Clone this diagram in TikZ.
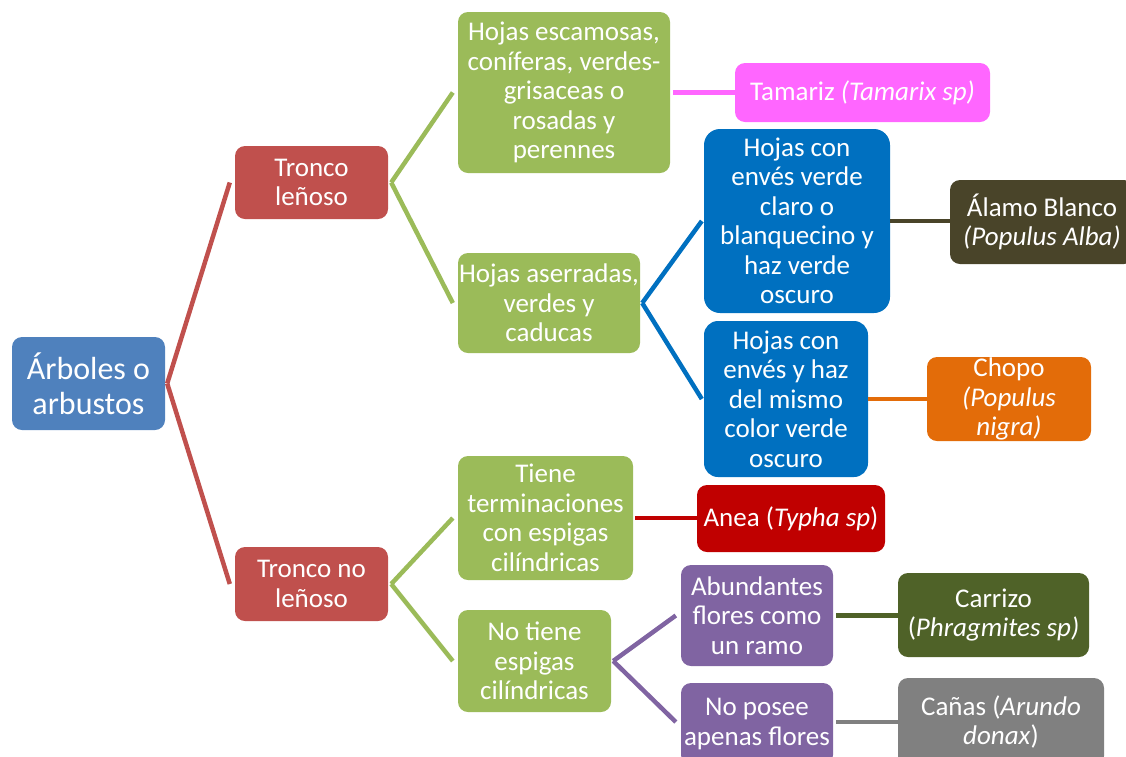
\documentclass[tikz,border=0pt]{standalone}
\usepackage{fontspec}
\setmainfont{Carlito}
\definecolor{cRoot}{HTML}{4F81BD}
\definecolor{cRed}{HTML}{C0504D}
\definecolor{cGreen}{HTML}{9BBB59}
\definecolor{cBlue}{HTML}{0070C0}
\definecolor{cPurple}{HTML}{8064A2}
\definecolor{cPink}{HTML}{FF66FF}
\definecolor{cBrown}{HTML}{494429}
\definecolor{cOrange}{HTML}{E36C09}
\definecolor{cDarkRed}{HTML}{C00000}
\definecolor{cOlive}{HTML}{4F6228}
\definecolor{cGrey}{HTML}{808080}
\begin{document}
\begin{tikzpicture}[x=1pt,y=-1pt,
  box/.style={rectangle, rounded corners=10pt, draw=none, text=white, align=center,
    inner sep=0pt, font=\fontsize{27}{29.5}\selectfont},
  link/.style={line width=4.5pt},
]
\useasboundingbox (0,0) rectangle (1126,756);
\clip (0,0) rectangle (1126,756);
% nodes
\node[box, fill=cRoot, minimum width=153, minimum height=93, font=\fontsize{32}{35}\selectfont] (root) at (88.5,383.5) {Árboles o\\arbustos};
\node[box, fill=cRed, minimum width=153, minimum height=73] (tl) at (311.5,182.5) {Tronco\\leñoso};
\node[box, fill=cRed, minimum width=153, minimum height=74] (tnl) at (311.5,584) {Tronco no\\leñoso};
\node[box, fill=cGreen, minimum width=212, minimum height=161] (hesc) at (564,92.5) {Hojas escamosas,\\coníferas, verdes-\\grisaceas o\\rosadas y\\perennes};
\node[box, fill=cGreen, minimum width=182, minimum height=100] (hase) at (549,303) {Hojas aserradas,\\verdes y\\caducas};
\node[box, fill=cGreen, minimum width=175, minimum height=124] (tiene) at (545.5,518) {Tiene\\terminaciones\\con espigas\\cilíndricas};
\node[box, fill=cGreen, minimum width=153, minimum height=102] (notiene) at (534.5,661) {No tiene\\espigas\\cilíndricas};
\node[box, fill=cPink, minimum width=255, minimum height=59] (tam) at (862.5,92.5) {Tamariz \textit{(Tamarix sp)}};
\node[box, fill=cBlue, minimum width=186, minimum height=184, rounded corners=16pt] (b1) at (797,221) {Hojas con\\envés verde\\claro o\\blanquecino y\\haz verde\\oscuro};
\node[box, fill=cBlue, minimum width=164, minimum height=156, rounded corners=14pt] (b2) at (786,399) {Hojas con\\envés y haz\\del mismo\\color verde\\oscuro};
\node[box, fill=cBrown, minimum width=184, minimum height=84] (alamo) at (1042,222) {Álamo Blanco\\\textit{(Populus Alba)}};
\node[box, fill=cOrange, minimum width=164, minimum height=84] (chopo) at (1009,399) {Chopo\\\textit{(Populus}\\\textit{nigra)}};
\node[box, fill=cDarkRed, minimum width=188, minimum height=67] (anea) at (791,518.5) {Anea (\textit{Typha sp})};
\node[box, fill=cPurple, minimum width=152, minimum height=101] (abund) at (757,615.5) {Abundantes\\flores como\\un ramo};
\node[box, fill=cPurple, minimum width=152, minimum height=82] (noposee) at (757,724) {No posee\\apenas flores};
\node[box, fill=cOlive, minimum width=191, minimum height=84] (carrizo) at (993.5,615) {Carrizo\\(\textit{Phragmites sp)}};
\node[box, fill=cGrey, minimum width=206, minimum height=88] (canas) at (1001,722) {Cañas (\textit{Arundo}\\\textit{donax})};
% connectors
\draw[link, cRed] ([xshift=2pt]root.east) -- ([xshift=-5pt]tl.west);
\draw[link, cRed] ([xshift=2pt]root.east) -- ([xshift=-5pt]tnl.west);
\draw[link, cGreen] ([xshift=3pt]tl.east) -- ([xshift=-5pt]hesc.west);
\draw[link, cGreen] ([xshift=3pt]tl.east) -- ([xshift=-5pt]hase.west);
\draw[link, cGreen] ([xshift=3pt]tnl.east) -- ([xshift=-5pt]tiene.west);
\draw[link, cGreen] ([xshift=3pt]tnl.east) -- ([xshift=-5pt]notiene.west);
\draw[link, cBlue] ([xshift=2pt]hase.east) -- ([xshift=-2pt]b1.west);
\draw[link, cBlue] ([xshift=2pt]hase.east) -- ([xshift=-2pt]b2.west);
\draw[link, cPurple] ([xshift=2pt]notiene.east) -- ([xshift=-5pt]abund.west);
\draw[link, cPurple] ([xshift=2pt]notiene.east) -- ([xshift=-5pt]noposee.west|-canas.west);
\draw[link, cPink] ([xshift=3pt]hesc.east) -- (tam.west);
\draw[link, cBrown] (b1.east) -- (b1.east-|alamo.west);
\draw[link, cOrange] (b2.east) -- (b2.east-|chopo.west);
\draw[link, cDarkRed] ([xshift=2pt]tiene.east) -- (tiene.east-|anea.west);
\draw[link, cOlive] ([xshift=3pt]abund.east) -- (abund.east-|carrizo.west);
\draw[link, cGrey] ([xshift=3pt]noposee.east|-canas.west) -- (canas.west);
\end{tikzpicture}
\end{document}
